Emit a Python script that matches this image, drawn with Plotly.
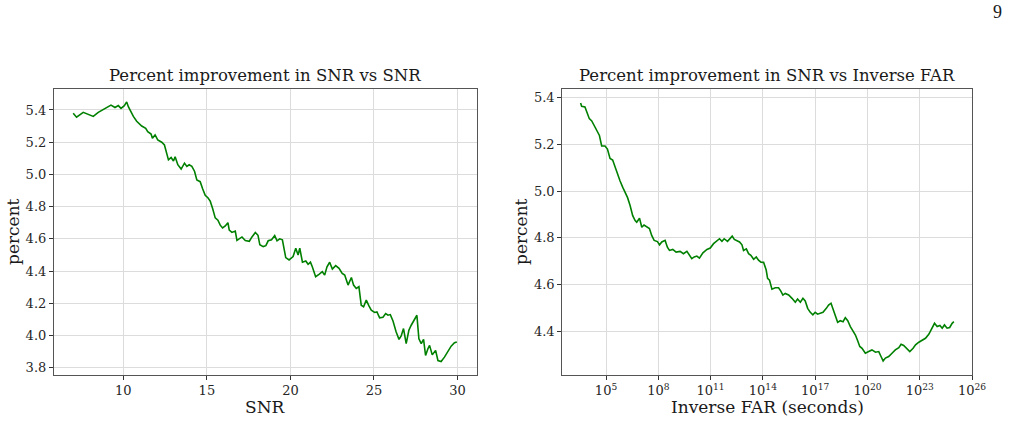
import plotly.graph_objects as go
from plotly.subplots import make_subplots

# ---- Left panel: percent improvement vs SNR ----
snr = [7.0, 7.2, 7.6, 7.9, 8.2, 8.5, 8.9, 9.26, 9.5, 9.7,
       9.86, 10.06, 10.2, 10.3, 10.6, 10.8, 11.1, 11.34, 11.46, 11.66,
       11.74, 11.9, 12.06, 12.3, 12.46, 12.6, 12.7, 12.86, 13.0, 13.1,
       13.26, 13.46, 13.66, 13.8, 13.94, 14.1, 14.26, 14.4, 14.6, 14.74,
       14.9, 15.06, 15.2, 15.34, 15.5, 15.66, 15.8, 15.94, 16.1, 16.26,
       16.34, 16.5, 16.7, 16.8, 16.94, 17.1, 17.3, 17.54, 17.7, 17.9,
       18.06, 18.17, 18.37, 18.53, 18.67, 18.87, 19.06, 19.2, 19.36, 19.52,
       19.72, 19.92, 20.16, 20.32, 20.46, 20.56, 20.72, 20.92, 21.06, 21.2,
       21.31, 21.51, 21.71, 21.91, 22.05, 22.19, 22.35, 22.51, 22.71, 22.91,
       23.1, 23.25, 23.45, 23.65, 23.78, 23.94, 24.1, 24.24, 24.38, 24.54,
       24.7, 24.84, 25.04, 25.18, 25.34, 25.54, 25.7, 25.84, 25.98, 26.14,
       26.33, 26.5, 26.63, 26.77, 26.93, 27.09, 27.23, 27.37, 27.57, 27.69,
       27.83, 27.97, 28.09, 28.23, 28.33, 28.49, 28.69, 28.83, 29.02, 29.22,
       29.42, 29.62, 29.82, 29.96]
pct_vs_snr = [5.38, 5.355, 5.385, 5.373, 5.36, 5.385, 5.41, 5.43, 5.415, 5.427,
              5.41, 5.427, 5.45, 5.42, 5.36, 5.33, 5.30, 5.286, 5.265, 5.25,
              5.225, 5.245, 5.214, 5.2, 5.183, 5.13, 5.09, 5.105, 5.083, 5.11,
              5.06, 5.033, 5.07, 5.05, 5.06, 5.05, 5.02, 4.965, 4.955, 4.913,
              4.87, 4.855, 4.834, 4.79, 4.73, 4.716, 4.685, 4.668, 4.68, 4.70,
              4.654, 4.64, 4.648, 4.59, 4.60, 4.612, 4.59, 4.585, 4.612, 4.64,
              4.622, 4.563, 4.552, 4.558, 4.588, 4.594, 4.62, 4.588, 4.60, 4.594,
              4.484, 4.469, 4.49, 4.542, 4.50, 4.542, 4.455, 4.463, 4.442, 4.455,
              4.427, 4.365, 4.38, 4.396, 4.375, 4.427, 4.455, 4.413, 4.434, 4.417,
              4.386, 4.375, 4.313, 4.36, 4.313, 4.292, 4.303, 4.188, 4.178, 4.22,
              4.184, 4.157, 4.143, 4.147, 4.11, 4.114, 4.136, 4.126, 4.13, 4.09,
              4.022, 3.976, 3.997, 4.043, 3.95, 4.033, 4.064, 4.089, 4.126, 3.98,
              3.95, 3.976, 3.876, 3.918, 3.939, 3.88, 3.908, 3.845, 3.839, 3.866,
              3.90, 3.934, 3.955, 3.96]

# ---- Right panel: percent improvement vs inverse FAR (log10 seconds) ----
far_log10 = [3.54, 3.6, 3.79, 3.89, 4.04, 4.18, 4.31, 4.46, 4.62, 4.75,
             4.94, 5.08, 5.23, 5.38, 5.52, 5.65, 5.8, 5.96, 6.09, 6.23,
             6.38, 6.53, 6.67, 6.76, 6.92, 7.05, 7.18, 7.3, 7.49, 7.62,
             7.76, 7.95, 8.07, 8.2, 8.39, 8.52, 8.64, 8.83, 9.02, 9.25,
             9.44, 9.64, 9.79, 9.92, 10.06, 10.21, 10.36, 10.56, 10.79, 10.98,
             11.17, 11.36, 11.51, 11.65, 11.78, 11.97, 12.13, 12.24, 12.36, 12.51,
             12.66, 12.8, 12.89, 13.05, 13.18, 13.31, 13.47, 13.62, 13.75, 13.89,
             14.04, 14.19, 14.27, 14.38, 14.52, 14.71, 14.9, 15.03, 15.15, 15.28,
             15.48, 15.67, 15.86, 15.99, 16.15, 16.3, 16.43, 16.57, 16.72, 16.87,
             17.0, 17.14, 17.3, 17.45, 17.64, 17.77, 17.91, 18.06, 18.16, 18.29,
             18.44, 18.6, 18.73, 18.87, 19.02, 19.17, 19.31, 19.44, 19.56, 19.69,
             19.88, 20.07, 20.26, 20.46, 20.65, 20.78, 20.9, 21.03, 21.22, 21.41,
             21.6, 21.8, 21.93, 22.08, 22.28, 22.43, 22.62, 22.76, 22.95, 23.14,
             23.33, 23.52, 23.72, 23.85, 24.0, 24.16, 24.29, 24.42, 24.57, 24.72,
             24.86, 24.96]
pct_vs_far = [5.377, 5.363, 5.36, 5.34, 5.31, 5.30, 5.28, 5.257, 5.238, 5.193,
              5.193, 5.18, 5.14, 5.133, 5.10, 5.072, 5.044, 5.016, 4.994, 4.973,
              4.938, 4.895, 4.874, 4.867, 4.884, 4.845, 4.855, 4.85, 4.84, 4.81,
              4.789, 4.784, 4.77, 4.782, 4.789, 4.76, 4.746, 4.75, 4.739, 4.742,
              4.732, 4.742, 4.728, 4.711, 4.718, 4.722, 4.713, 4.736, 4.75, 4.756,
              4.775, 4.789, 4.796, 4.785, 4.796, 4.785, 4.80, 4.807, 4.793, 4.789,
              4.782, 4.77, 4.746, 4.753, 4.732, 4.725, 4.708, 4.718, 4.704, 4.696,
              4.695, 4.662, 4.626, 4.619, 4.58, 4.586, 4.586, 4.572, 4.555, 4.562,
              4.555, 4.541, 4.524, 4.538, 4.524, 4.541, 4.53, 4.498, 4.481, 4.47,
              4.481, 4.473, 4.477, 4.481, 4.498, 4.512, 4.52, 4.484, 4.463, 4.438,
              4.445, 4.441, 4.458, 4.445, 4.42, 4.40, 4.384, 4.359, 4.335, 4.327,
              4.306, 4.313, 4.32, 4.31, 4.313, 4.292, 4.273, 4.285, 4.292, 4.306,
              4.32, 4.33, 4.344, 4.339, 4.324, 4.313, 4.327, 4.342, 4.353, 4.363,
              4.37, 4.387, 4.413, 4.434, 4.42, 4.425, 4.413, 4.427, 4.413, 4.416,
              4.434, 4.441]
inverse_far = [10.0 ** e for e in far_log10]

# ---- Tick labels ----
snr_ticks = [10, 15, 20, 25, 30]
left_y_ticks = [3.8, 4.0, 4.2, 4.4, 4.6, 4.8, 5.0, 5.2, 5.4]
far_tick_exps = [5, 8, 11, 14, 17, 20, 23, 26]
right_y_ticks = [4.4, 4.6, 4.8, 5.0, 5.2, 5.4]

W, H = 1009, 422
SERIF = "DejaVu Serif"
LINE_GREEN = "#008000"
GRID = "#dcdcdc"
SPINE = "#555555"

fig = make_subplots(rows=1, cols=2)
fig.add_trace(go.Scatter(x=snr, y=pct_vs_snr, mode="lines",
                         line=dict(color=LINE_GREEN, width=1.6), showlegend=False),
              row=1, col=1)
fig.add_trace(go.Scatter(x=inverse_far, y=pct_vs_far, mode="lines",
                         line=dict(color=LINE_GREEN, width=1.6), showlegend=False),
              row=1, col=2)

def px_x(a, b):
    return [a / W, b / W]

def px_y(top, bottom):
    return [1 - bottom / H, 1 - top / H]

common_axis = dict(showline=True, linecolor=SPINE, linewidth=1.2, mirror=True,
                   showgrid=True, gridcolor=GRID, gridwidth=1,
                   ticks="outside", ticklen=4, tickwidth=1, tickcolor="#333",
                   tickfont=dict(family=SERIF, size=13, color="#262626"),
                   zeroline=False, automargin=False)

fig.update_layout(
    width=W, height=H,
    margin=dict(l=0, r=0, t=0, b=0),
    paper_bgcolor="white", plot_bgcolor="white",
    font=dict(family=SERIF, color="#1a1a1a"),
    xaxis=dict(domain=px_x(54, 476.7), range=[5.85, 31.15],
               tickvals=snr_ticks, ticktext=[str(t) for t in snr_ticks],
               **common_axis),
    yaxis=dict(domain=px_y(89, 374.7), range=[3.757, 5.53],
               tickvals=left_y_ticks, ticktext=[f"{t:.1f}" for t in left_y_ticks],
               **common_axis),
    xaxis2=dict(domain=px_x(562.3, 972), type="log", range=[2.49, 26.0],
                tickvals=[10.0 ** e for e in far_tick_exps],
                ticktext=[f"10<sup>{e}</sup>" for e in far_tick_exps],
                **common_axis),
    yaxis2=dict(domain=px_y(89, 374.7), range=[4.214, 5.437],
                tickvals=right_y_ticks, ticktext=[f"{t:.1f}" for t in right_y_ticks],
                **common_axis),
)

def paper_text(text, x, y, size, angle=0, family=SERIF):
    return dict(text=text, x=x / W, y=1 - y / H, xref="paper", yref="paper",
                showarrow=False, xanchor="center", yanchor="middle", textangle=angle,
                font=dict(family=family, size=size, color="#1a1a1a"))

annotations = [
    paper_text("Percent improvement in SNR vs SNR", (54 + 476.7) / 2, 76, 16.5),
    paper_text("Percent improvement in SNR vs Inverse FAR", (562.3 + 972) / 2, 76, 16.5),
    paper_text("SNR", 265.5, 406.5, 17),
    paper_text("Inverse FAR (seconds)", 767, 406.5, 17),
    paper_text("percent", 13, 232, 17, angle=-90),
    paper_text("percent", 521, 232, 17, angle=-90),
    paper_text("9", 997, 12, 18, family="Liberation Serif"),
]
fig.update_layout(annotations=annotations)

fig.write_html("out.html")
